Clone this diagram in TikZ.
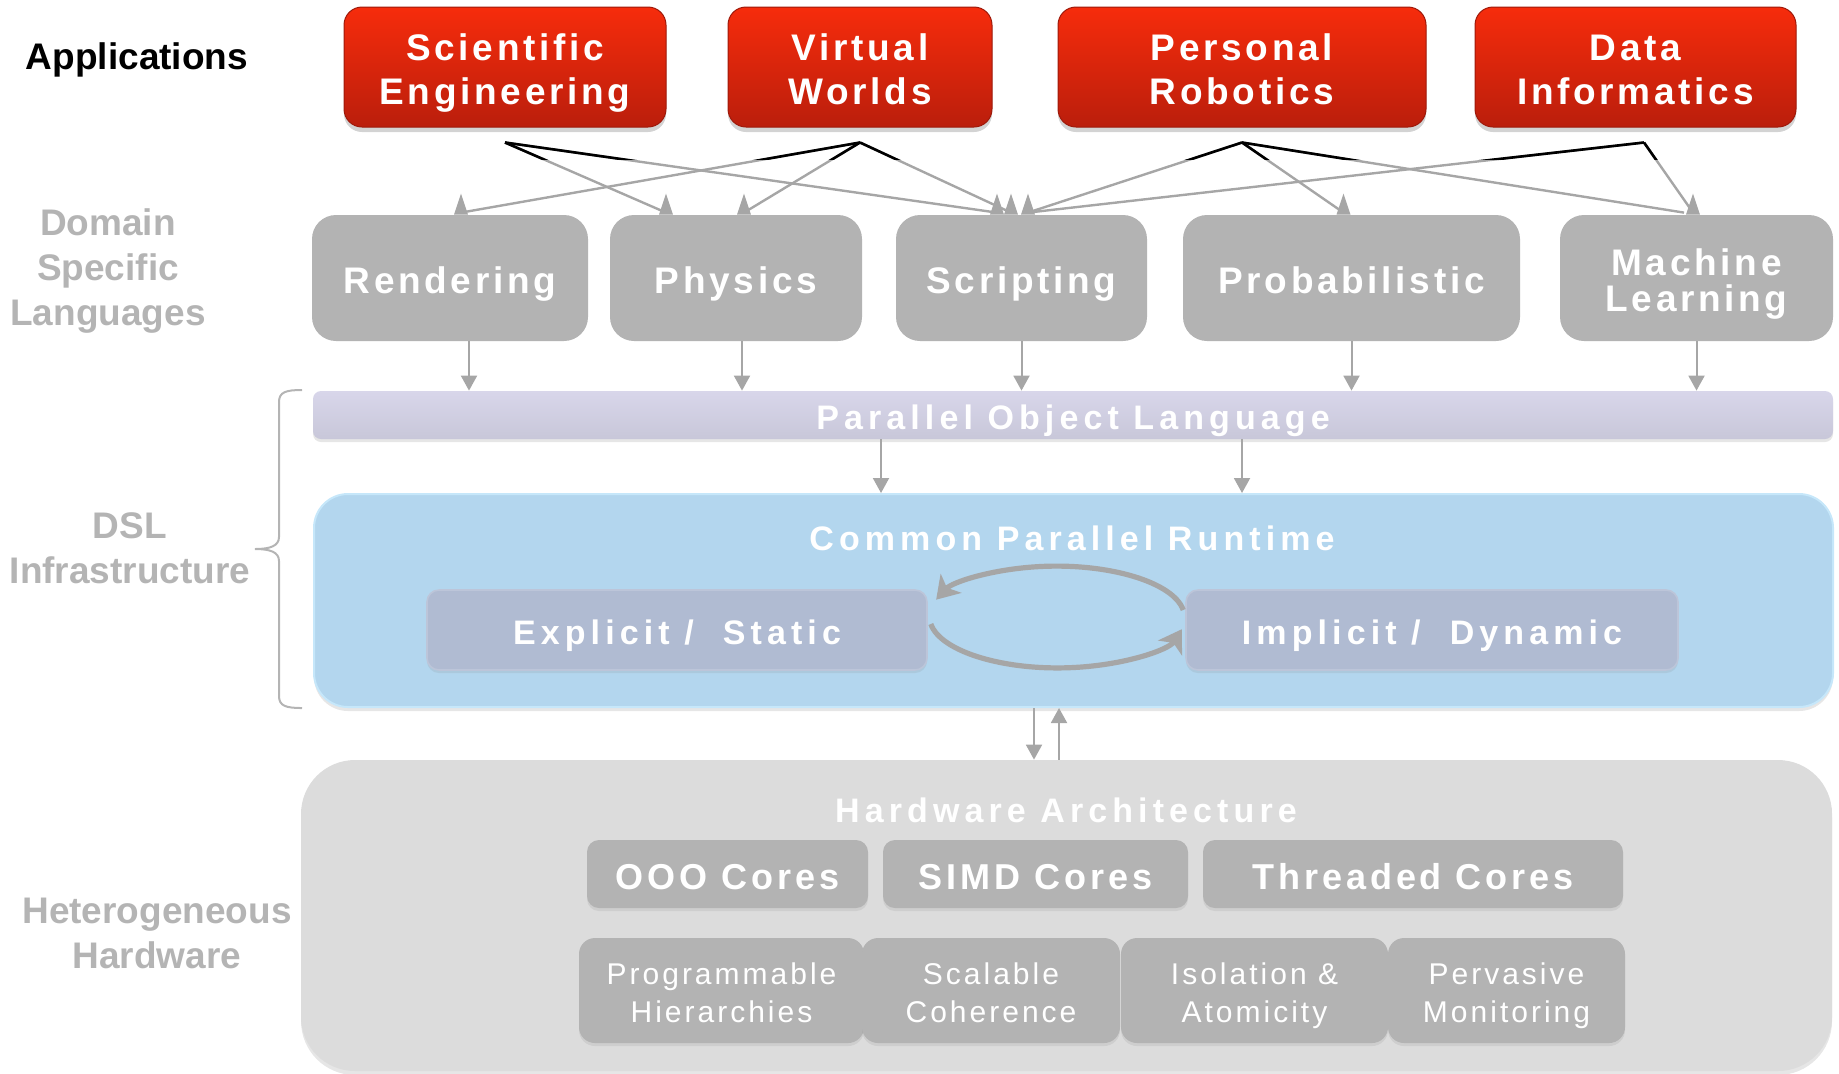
\documentclass[tikz,border=0pt]{standalone}
\usepackage{fontspec}
\setmainfont{Liberation Sans}
\newfontfamily\trackA[LetterSpace=10]{Liberation Sans}
\newfontfamily\trackB[LetterSpace=15]{Liberation Sans}
\newfontfamily\trackC[LetterSpace=11]{Liberation Sans}
\usetikzlibrary{shadows,arrows.meta,calc}
\definecolor{redtop}{RGB}{246,44,12}
\definecolor{redbot}{RGB}{186,30,12}
\definecolor{boxgray}{RGB}{179,179,179}
\definecolor{labgray}{RGB}{180,180,180}
\definecolor{arrgray}{RGB}{166,166,166}
\definecolor{poltop}{RGB}{216,214,234}
\definecolor{polbot}{RGB}{200,199,217}
\definecolor{cprblue}{RGB}{179,214,238}
\definecolor{cpredge}{RGB}{198,231,250}
\definecolor{exfill}{RGB}{176,187,210}
\definecolor{hwgray}{RGB}{220,220,220}
\newcommand\tx[1]{\raisebox{0pt}[0.95em][0.11em]{#1}}
\newcommand\tightlines{\lineskiplimit=-30pt\relax\lineskip=0pt\relax}
\newcommand\spikeat[1]{\fill[arrgray] ([shift={(-7,2)}]#1) -- ([shift={(0,-19)}]#1) -- ([shift={(7,2)}]#1) -- cycle;}
\tikzset{
  appbox/.style={rounded corners=9pt, top color=redtop, bottom color=redbot, draw=redbot!85!black, line width=0.5pt,
    text=white, font=\trackA\bfseries\fontsize{18.5}{22.3}\selectfont, align=center, inner sep=0pt,
    drop shadow={shadow xshift=0pt, shadow yshift=-2.5pt, opacity=0.35}},
  dslbox/.style={rounded corners=12pt, fill=boxgray, text=white,
    font=\trackA\bfseries\fontsize{18.5}{18}\selectfont\tightlines,
    align=center, inner sep=0pt},
  polbar/.style={rounded corners=4pt, top color=poltop, bottom color=polbot, text=white,
    font=\trackB\bfseries\fontsize{17}{20}\selectfont, inner sep=0pt,
    drop shadow={shadow xshift=0pt, shadow yshift=-1.5pt, opacity=0.2}},
  cprbox/.style={rounded corners=17pt, fill=cprblue, draw=cpredge, line width=1pt, inner sep=0pt,
    drop shadow={shadow xshift=0pt, shadow yshift=-2pt, opacity=0.2}},
  exbox/.style={rounded corners=6pt, fill=exfill, draw=exfill!85!white, line width=0.8pt, text=white,
    font=\trackB\bfseries\fontsize{17}{20}\selectfont, inner sep=0pt,
    drop shadow={shadow xshift=0pt, shadow yshift=-1.5pt, opacity=0.15}},
  hwbox/.style={rounded corners=27pt, fill=hwgray, inner sep=0pt,
    drop shadow={shadow xshift=0pt, shadow yshift=-2pt, opacity=0.2}},
  corebox/.style={rounded corners=6pt, fill=boxgray, text=white, font=\trackC\bfseries\fontsize{18}{20}\selectfont,
    inner sep=0pt, drop shadow={shadow xshift=0pt, shadow yshift=-1.5pt, opacity=0.15}},
  featbox/.style={rounded corners=8pt, fill=boxgray, text=white, font=\trackA\fontsize{15}{19}\selectfont,
    align=center, inner sep=0pt, drop shadow={shadow xshift=0pt, shadow yshift=-1.5pt, opacity=0.15}},
  title/.style={text=white, font=\trackB\bfseries\fontsize{17}{20}\selectfont, inner sep=0pt},
  lab/.style={font=\bfseries\fontsize{18.5}{22.3}\selectfont, text=labgray, align=center, inner sep=0pt},
  conn/.style={draw=arrgray, line width=1.2pt},
  blackconn/.style={draw=black, line width=1.3pt},
  varrow/.style={draw=arrgray, line width=1pt, -{Triangle[length=7.5pt,width=8pt]}},
  cyc/.style={draw=arrgray, line width=2.6pt, -{Stealth[length=11pt,width=14pt,inset=3pt]}},
  bracel/.style={draw=labgray, line width=1pt}
}
\begin{document}
\begin{tikzpicture}[x=0.5pt,y=-0.5pt]
\useasboundingbox (0,0) rectangle (1839,1073);

% left labels
\node[lab, text=black] (apps) at (137,54) {\tx{Applications}};
\node[lab] (dsl) at (108,265) {\tx{Domain}\\\tx{Specific}\\\tx{Languages}};
\node[lab] (infra) at (130,545.5) {\tx{DSL}\\\tx{Infrastructure}};
\node[lab] (het) at (157,930.5) {\tx{Heterogeneous}\\\tx{Hardware}};

% brace
\draw[bracel] (302,390) .. controls (286,390) and (279,392) .. (279,402) -- (279,537)
  .. controls (279,546) and (270,549) .. (255,549) .. controls (270,549) and (279,552) .. (279,561)
  -- (279,696) .. controls (279,706) and (286,708) .. (302,708);

% application boxes
\node[appbox, minimum width=161pt, minimum height=60pt] (se) at (505,67) {\tx{Scientific}\\\tx{Engineering}};
\node[appbox, minimum width=132pt, minimum height=60pt] (vw) at (860,67) {\tx{Virtual}\\\tx{Worlds}};
\node[appbox, minimum width=184pt, minimum height=60pt] (pr) at (1242,67) {\tx{Personal}\\\tx{Robotics}};
\node[appbox, minimum width=160.5pt, minimum height=60pt] (di) at (1635.5,67) {\tx{Data}\\\tx{Informatics}};

% DSL boxes
\node[dslbox, minimum width=138pt, minimum height=63pt] (ren) at (450,278) {\tx{Rendering}};
\node[dslbox, minimum width=126pt, minimum height=63pt] (phys) at (736,278) {\tx{Physics}};
\node[dslbox, minimum width=125.5pt, minimum height=63pt] (scr) at (1021.5,278) {\tx{Scripting}};
\node[dslbox, minimum width=168.5pt, minimum height=63pt] (prob) at (1351.5,278) {\tx{Probabilistic}};
\node[dslbox, minimum width=136.5pt, minimum height=63pt] (ml) at (1696.5,278) {\tx{Machine}\\\tx{Learning}};

% parallel object language
\node[polbar, minimum width=760pt, minimum height=24pt] (pol) at (1073,415) {\tx{Parallel Object Language}};

% common parallel runtime
\node[cprbox, minimum width=759.5pt, minimum height=106.5pt] (cpr) at (1073.5,600.5) {};
\node[title] (cprtitle) at (1072,536) {\tx{Common Parallel Runtime}};
\node[exbox, minimum width=250pt, minimum height=40pt] (expl) at (677,630) {\tx{Explicit / \ Static}};
\node[exbox, minimum width=246pt, minimum height=40pt] (impl) at (1432,630) {\tx{Implicit / \ Dynamic}};

% hardware
\node[hwbox, minimum width=765.5pt, minimum height=155.5pt] (hw) at (1066.5,915.5) {};
\node[title] (hwtitle) at (1066,808) {\tx{Hardware Architecture}};
\node[corebox, minimum width=140.5pt, minimum height=34pt] (ooo) at (727.5,874) {\tx{OOO Cores}};
\node[corebox, minimum width=152.5pt, minimum height=34pt] (simd) at (1035.5,874) {\tx{SIMD Cores}};
\node[corebox, minimum width=210pt, minimum height=34pt] (thr) at (1413,874) {\tx{Threaded Cores}};
\node[featbox, minimum width=142.5pt, minimum height=52.5pt] (ph) at (721.5,990.5) {\tx{Programmable}\\\tx{Hierarchies}};
\node[featbox, minimum width=129pt, minimum height=52.5pt] (sc) at (991,990.5) {\tx{Scalable}\\\tx{Coherence}};
\node[featbox, minimum width=133.5pt, minimum height=52.5pt] (ia) at (1254.5,990.5) {\tx{Isolation \&}\\\tx{Atomicity}};
\node[featbox, minimum width=118.5pt, minimum height=52.5pt] (pm) at (1506.5,990.5) {\tx{Pervasive}\\\tx{Monitoring}};

% application connectors
\coordinate (se-o) at ([yshift=-7.5pt]se.south);
\coordinate (vw-o) at ([yshift=-7.5pt]vw.south);
\coordinate (pr-o) at ([yshift=-7.5pt]pr.south);
\coordinate (di-o) at ([xshift=4.25pt,yshift=-7.5pt]di.south);
\coordinate (e-vw-ren) at ([xshift=5.5pt,yshift=1pt]ren.north);
\coordinate (e-se-phys) at ([xshift=-35pt,yshift=1pt]phys.north);
\coordinate (e-vw-phys) at ([xshift=4pt,yshift=1pt]phys.north);
\coordinate (e-se-scr) at ([xshift=-12.25pt,yshift=1pt]scr.north);
\coordinate (e-vw-scr) at ([xshift=-5.25pt,yshift=1pt]scr.north);
\coordinate (e-pr-scr) at ([xshift=3.25pt,yshift=1pt]scr.north);
\coordinate (e-pr-prob) at ([xshift=-4pt,yshift=1pt]prob.north);
\coordinate (e-pr-ml) at ([xshift=-6.25pt,yshift=1pt]ml.north);
\coordinate (e-di-ml) at ([xshift=-1.75pt,yshift=1pt]ml.north);

\foreach \a/\b in {se-o/e-se-phys, se-o/e-se-scr, vw-o/e-vw-ren, vw-o/e-vw-phys, vw-o/e-vw-scr,
  pr-o/e-pr-scr, pr-o/e-pr-prob, pr-o/e-pr-ml, di-o/e-pr-scr, di-o/e-di-ml}
  {\draw[conn] (\a) -- (\b);}
\begin{scope}
\clip (300,138) rectangle (1800,159);
\foreach \a/\b in {se-o/e-se-phys, se-o/e-se-scr, vw-o/e-vw-ren, vw-o/e-vw-phys, vw-o/e-vw-scr,
  pr-o/e-pr-scr, pr-o/e-pr-prob, pr-o/e-pr-ml, di-o/e-pr-scr, di-o/e-di-ml}
  {\draw[blackconn] (\a) -- (\b);}
\end{scope}
\foreach \e in {e-vw-ren, e-se-phys, e-vw-phys, e-se-scr, e-vw-scr, e-pr-scr, e-pr-prob, e-di-ml}
  {\spikeat{\e}}

% DSL to POL
\coordinate (d1) at ([xshift=9.5pt]ren.south);
\coordinate (d2) at ([xshift=3pt]phys.south);
\coordinate (d3) at (scr.south);
\coordinate (d4) at (prob.south);
\coordinate (d5) at (ml.south);
\foreach \d in {d1,d2,d3,d4,d5} {\draw[varrow] (\d) -- (\d |- pol.north);}

% POL to CPR
\coordinate (p1) at ([xshift=-96pt]pol.south);
\coordinate (p2) at ([xshift=84.5pt]pol.south);
\draw[varrow] (p1) -- (p1 |- cpr.north);
\draw[varrow] (p2) -- (p2 |- cpr.north);

% CPR <-> HW
\coordinate (c1) at ([xshift=-19.75pt]cpr.south);
\coordinate (c2) at ([xshift=-3.75pt]hw.north);
\draw[varrow] (c1) -- (c1 |- hw.north);
\draw[varrow] (c2) -- (c2 |- cpr.south);

% cycle between explicit and implicit
\draw[cyc] ([shift={(-2,-20)}]impl.west) arc[start angle=-8, end angle=-160, x radius=128, y radius=51];
\draw[cyc] ([shift={(3,-6)}]expl.east) arc[start angle=172, end angle=14, x radius=128, y radius=51];
\end{tikzpicture}
\end{document}
